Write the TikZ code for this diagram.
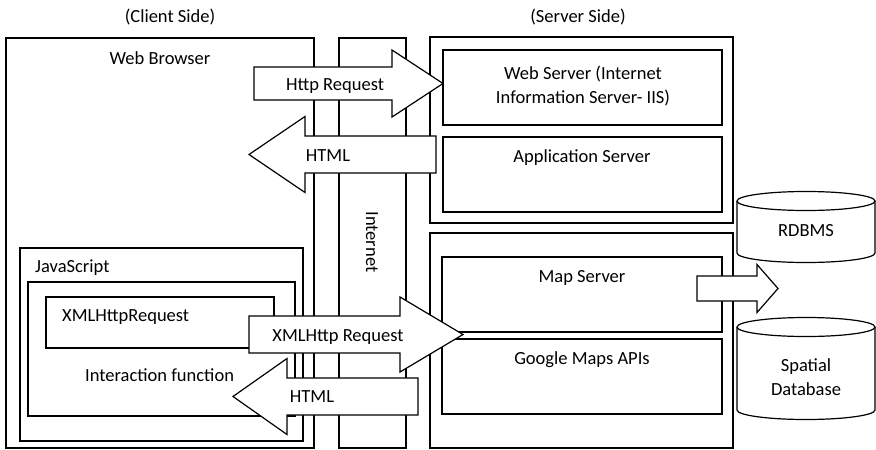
\documentclass[tikz,border=0pt]{standalone}
\usepackage{fontspec}
\setmainfont{Carlito}
\tikzset{
  box/.style={draw, line width=1.2pt},
  blk/.style={draw, line width=1.2pt, fill=white, line join=miter},
  lbl/.style={font=\fontsize{18.5}{24}\selectfont, inner sep=0pt},
}
% right-pointing block arrow: #1 left x, #2 head base x, #3 tip x, #4 centre y, #5 shaft half, #6 head half
\newcommand\rblk[6]{\draw[blk] (#1,#4-#5) -- (#2,#4-#5) -- (#2,#4-#6) -- (#3,#4) -- (#2,#4+#6) -- (#2,#4+#5) -- (#1,#4+#5) -- cycle;}
% left-pointing block arrow: #1 right x, #2 head base x, #3 tip x, ...
\newcommand\lblk[6]{\draw[blk] (#1,#4-#5) -- (#2,#4-#5) -- (#2,#4-#6) -- (#3,#4) -- (#2,#4+#6) -- (#2,#4+#5) -- (#1,#4+#5) -- cycle;}
% cylinder: #1 cx, #2 rx, #3 top cy, #4 bottom cy, #5 ry
\newcommand\cyl[5]{\draw[box, fill=white] (#1-#2,#3) -- (#1-#2,#4) arc[start angle=180, end angle=360, x radius=#2, y radius=-#5] -- (#1+#2,#3);
  \draw[box] (#1,#3) ellipse[x radius=#2, y radius=#5];}
\begin{document}
\begin{tikzpicture}[x=1pt, y=-1pt]
\useasboundingbox (0,0) rectangle (876,450);
% boxes
\draw[box] (6,38) rectangle (314,448);
\draw[box] (339,38) rectangle (406,448);
\draw[box] (430,37) rectangle (733,223);
\draw[box] (443,50) rectangle (722,125);
\draw[box] (443,137) rectangle (722,212);
\draw[box] (430,233) rectangle (733,448);
\draw[box] (442,257) rectangle (722,332);
\draw[box] (442,339) rectangle (722,414);
\draw[box] (20,248) rectangle (303,441);
\draw[box] (28,282) rectangle (295,416);
\draw[box] (46,297) rectangle (274,348);
% cylinders
\cyl{806}{69}{201}{253}{9.5}
\cyl{806}{69}{327}{410}{9.5}
% block arrows
\rblk{254}{392}{443}{83.5}{16.5}{33.5}
\lblk{436}{305}{249}{154.5}{18.5}{38}
\rblk{249}{400}{463}{334.5}{18.5}{37.5}
\lblk{418}{287}{233}{396.5}{18.5}{38}
\rblk{697}{757}{778}{288.5}{12.5}{24}
% labels
\node[lbl] (client) at (170,17) {(Client Side)};
\node[lbl] (server) at (578,17) {(Server Side)};
\node[lbl] (browser) at (160,58) {Web Browser};
\node[lbl] (httpreq) at (335,86) {Http Request};
\node[lbl] (html1) at (328,156) {HTML};
\node[lbl, align=center] (websrv) at (583,86) {Web Server (Internet\\Information Server- IIS)};
\node[lbl] (appsrv) at (582,158) {Application Server};
\node[lbl, rotate=-90] (internet) at (372,242) {Internet};
\node[lbl, anchor=west] (js) at (35,268) {JavaScript};
\node[lbl, anchor=west] (xhr) at (62,317) {XMLHttpRequest};
\node[lbl, anchor=west] (inter) at (85,375) {Interaction function};
\node[lbl] (xhrreq) at (338,337) {XMLHttp Request};
\node[lbl] (html2) at (312,397) {HTML};
\node[lbl] (mapsrv) at (582,278) {Map Server};
\node[lbl] (gmaps) at (582,360) {Google Maps APIs};
\node[lbl] (rdbms) at (806,231) {RDBMS};
\node[lbl, align=center] (spatial) at (806,377) {Spatial\\Database};
\end{tikzpicture}
\end{document}
